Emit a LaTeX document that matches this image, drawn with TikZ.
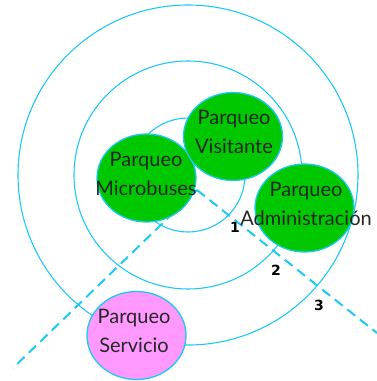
\documentclass[tikz,border=0pt]{standalone}
\usepackage{fontspec}
\setmainfont{Lato}
\newfontfamily\zonefont{DejaVu Sans}
\usetikzlibrary{shapes.geometric}
\definecolor{ring}{RGB}{30,200,245}
\definecolor{parkgreen}{RGB}{0,200,0}
\definecolor{parkpink}{RGB}{255,153,255}
\tikzset{
  park/.style={ellipse,draw=ring,line width=1.3pt,minimum width=99pt,minimum height=88pt,inner sep=0pt},
  parktext/.style={align=center,font=\fontsize{20}{29}\selectfont,text=black!85},
  zone/.style={font=\zonefont\bfseries\fontsize{14}{14}\selectfont}
}

\begin{document}
\begin{tikzpicture}[x=1pt,y=-1pt]
  \useasboundingbox (0,0) rectangle (377,381);
  \draw[ring,line width=1.1pt] (188,175) circle[radius=57pt];
  \draw[ring,line width=1.1pt] (188,175) circle[radius=114pt];
  \draw[ring,line width=1.1pt] (188,175) circle[radius=170pt];
  \coordinate (apex) at (197,190);
  \coordinate (endl) at (13,368);
  \coordinate (endr) at (377,333);
  \draw[ring,line width=2pt,dash pattern=on 10pt off 6pt] (apex) -- (endl);
  \draw[ring,line width=2pt,dash pattern=on 10pt off 6pt] (apex) -- (endr);
  \node[park,fill=parkgreen] (micro) at (146.5,178) {};
  \node[park,fill=parkgreen] (visit) at (233,136.5) {};
  \node[park,fill=parkgreen] (admin) at (304.5,208) {};
  \node[park,fill=parkpink] (serv) at (136.5,335.5) {};
  \node[parktext] (microtxt) at (146,174) {Parqueo\\Microbuses};
  \node[parktext] (visittxt) at (234,132) {Parqueo\\Visitante};
  \node[parktext] (admintxt) at (306,204) {Parqueo\\Administración};
  \node[parktext] (servtxt) at (134,331) {Parqueo\\Servicio};
  \node[zone] (z1) at (235,227) {1};
  \node[zone] (z2) at (276,270) {2};
  \node[zone] (z3) at (319,305) {3};
\end{tikzpicture}
\end{document}
